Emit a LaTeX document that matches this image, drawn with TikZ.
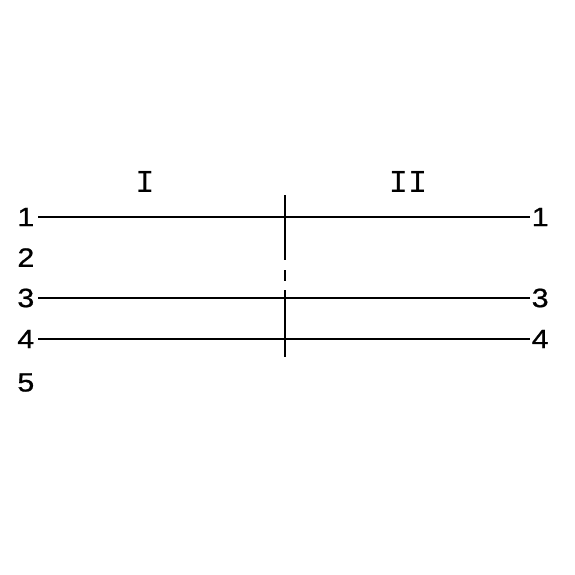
\documentclass[tikz,border=0pt]{standalone}
\usepackage{fontspec}
\setmainfont{Liberation Sans}
\newfontfamily\digfont[FakeStretch=1.15,FakeBold=0.8]{Liberation Sans}
\newfontfamily\monofnt{Liberation Mono}
\begin{document}
\begin{tikzpicture}[x=1pt,y=-1pt,
  num/.style={inner sep=0pt,font=\digfont\fontsize{26.5}{27}\selectfont},
  roman/.style={inner sep=0pt,font=\monofnt\fontsize{32}{32}\selectfont},
  wire/.style={line width=1.9pt},
  axis/.style={line width=1.6pt}]
\useasboundingbox (0,0) rectangle (575,575);
% left labels
\node[num,anchor=east] (L1) at (34.5,217) {1};
\node[num,anchor=east] (L2) at (34.5,257.5) {2};
\node[num,anchor=east] (L3) at (34.5,298) {3};
\node[num,anchor=east] (L4) at (34.5,339) {4};
\node[num,anchor=east] (L5) at (34.5,382.5) {5};
% right labels
\node[num,anchor=west] (R1) at (531.5,217) {1};
\node[num,anchor=west] (R3) at (531.5,298) {3};
\node[num,anchor=west] (R4) at (531.5,339) {4};
% roman labels
\node[roman] (I) at (145,182) {I};
\node[roman] (II) at (408,182) {II};
% wires
\draw[wire] ([xshift=3.5pt]L1.east) -- ([xshift=-1.5pt]R1.west);
\draw[wire] ([xshift=3.5pt]L3.east) -- ([xshift=-1.5pt]R3.west);
\draw[wire] ([xshift=3.5pt]L4.east) -- ([xshift=-1.5pt]R4.west);
% vertical divider
\coordinate (V0) at (285,195);
\coordinate (V1) at (285,260);
\coordinate (V2) at (285,270);
\coordinate (V3) at (285,281);
\coordinate (V4) at (285,290);
\coordinate (V5) at (285,357);
\draw[axis] (V0) -- (V1);
\draw[axis] (V2) -- (V3);
\draw[axis] (V4) -- (V5);
\end{tikzpicture}
\end{document}
